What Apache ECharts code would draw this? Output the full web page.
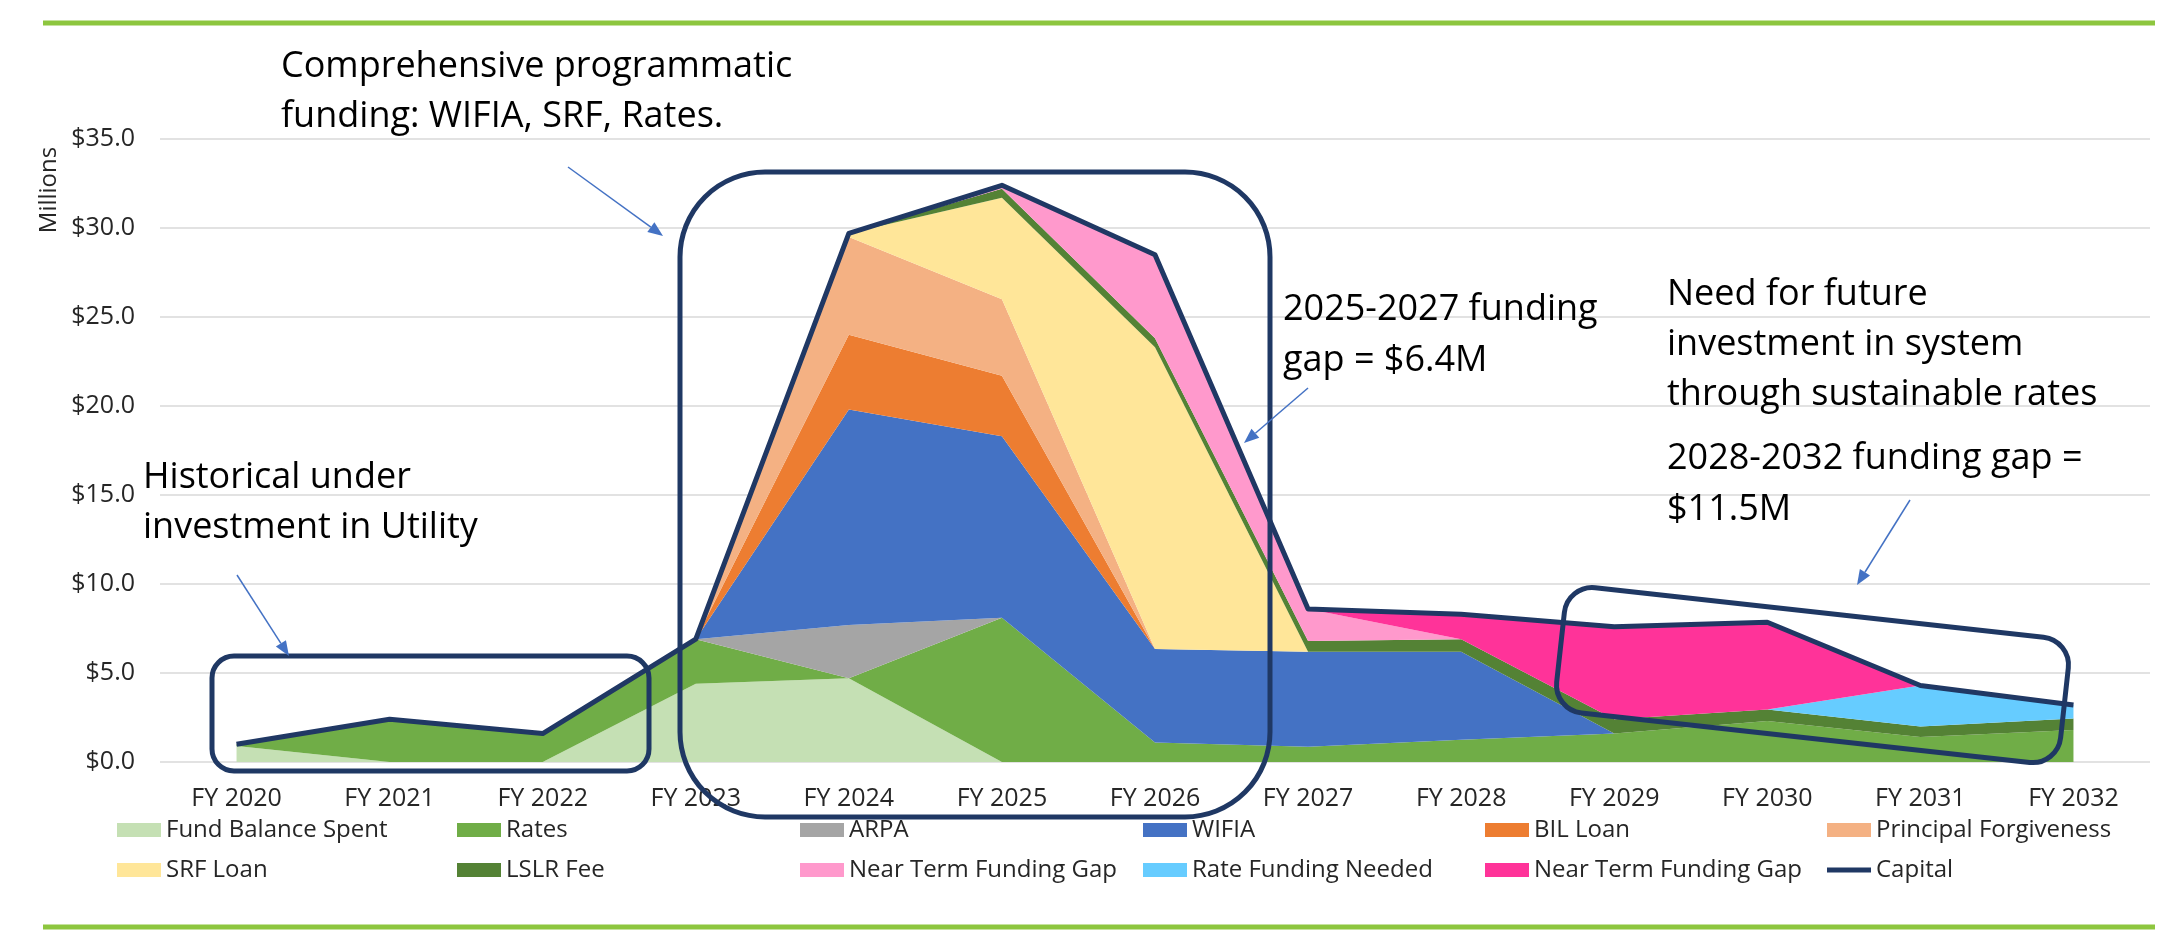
<!DOCTYPE html>
<html>
<head>
<meta charset="utf-8">
<script src="https://cdn.jsdelivr.net/npm/echarts@6.0.0/dist/echarts.min.js"></script>
<style>
  html, body { margin: 0; padding: 0; background: #fff; }
  #chart { width: 2183px; height: 942px; }
</style>
</head>
<body>
<div id="chart"></div>
<script>
// categories and stacked funding sources ($ millions)
const categories = ['FY 2020', 'FY 2021', 'FY 2022', 'FY 2023', 'FY 2024', 'FY 2025', 'FY 2026',
                    'FY 2027', 'FY 2028', 'FY 2029', 'FY 2030', 'FY 2031', 'FY 2032'];
const fundBalanceSpent     = [0.9, 0,   0,   4.4, 4.7,  0,    0,     0,    0,    0,   0,    0,   0];
const rates                = [0.1, 2.4, 1.6, 2.5, 0,    8.1,  1.1,   0.85, 1.25, 1.6, 2.3,  1.4, 1.8];
const arpa                 = [0,   0,   0,   0,   3.0,  0,    0,     0,    0,    0,   0,    0,   0];
const wifia                = [0,   0,   0,   0,   12.1, 10.2, 5.25,  5.35, 4.95, 0,   0,    0,   0];
const bilLoan              = [0,   0,   0,   0,   4.2,  3.4,  0,     0,    0,    0,   0,    0,   0];
const principalForgiveness = [0,   0,   0,   0,   5.5,  4.3,  0,     0,    0,    0,   0,    0,   0];
const srfLoan              = [0,   0,   0,   0,   0.2,  5.7,  16.95, 0,    0,    0,   0,    0,   0];
const lslrFee              = [0,   0,   0,   0,   0,    0.5,  0.5,   0.6,  0.7,  0.8, 0.65, 0.6, 0.65];
const nearTermGap          = [0,   0,   0,   0,   0,    0.2,  4.7,   1.8,  0,    0,   0,    0,   0];
const rateFundingNeeded    = [0,   0,   0,   0,   0,    0,    0,     0,    0,    0,   0,    2.3, 0.75];
const nearTermGapLater     = [0,   0,   0,   0,   0,    0,    0,     0,    1.4,  5.2, 4.9,  0,   0];
const capital              = [1.0, 2.4, 1.6, 6.9, 29.7, 32.4, 28.5,  8.6,  8.3,  7.6, 7.85, 4.3, 3.2];
const yTicks = [0, 5, 10, 15, 20, 25, 30, 35];

const FONT = '"Open Sans", sans-serif';

const areaDefs = [
    ['Fund Balance Spent', fundBalanceSpent, '#C5E0B4'],
    ['Rates', rates, '#70AD47'],
    ['ARPA', arpa, '#A5A5A5'],
    ['WIFIA', wifia, '#4472C4'],
    ['BIL Loan', bilLoan, '#ED7D31'],
    ['Principal Forgiveness', principalForgiveness, '#F4B183'],
    ['SRF Loan', srfLoan, '#FFE699'],
    ['LSLR Fee', lslrFee, '#548235'],
    ['Near Term Funding Gap', nearTermGap, '#FF99CC'],
    ['Rate Funding Needed', rateFundingNeeded, '#66CCFF'],
    ['Near Term Funding Gap ', nearTermGapLater, '#FF3399']
];

const series = areaDefs.map(([name, data, color]) => ({
    name: name,
    type: 'line',
    stack: 'funding',
    data: data,
    symbol: 'none',
    showSymbol: false,
    lineStyle: { width: 0 },
    itemStyle: { color: color },
    areaStyle: { color: color, opacity: 1 },
    z: 2
}));
series.push({
    name: 'Capital',
    type: 'line',
    data: capital,
    symbol: 'none',
    showSymbol: false,
    itemStyle: { color: '#203864' },
    lineStyle: { color: '#203864', width: 5, join: 'round' },
    z: 5
});

// legend: 2 rows x 6 columns
const legendNames = areaDefs.map(d => d[0]).concat(['Capital']);
const colX = [117, 457, 800, 1143, 1485, 1827];
const rowY = [831, 871];
const legends = legendNames.map((name, i) => ({
    data: [name],
    left: colX[i % 6],
    top: rowY[Math.floor(i / 6)] - 13,
    padding: 0,
    icon: 'rect',
    itemWidth: 44,
    itemHeight: name === 'Capital' ? 5 : 14,
    itemGap: 0,
    selectedMode: false,
    formatter: n => n.trim(),
    textStyle: { fontFamily: FONT, fontSize: 24, color: '#262626', padding: [0, 0, 0, 0] }
}));

// annotation helpers
function textLines(lines, x, firstBaseline, size, gap) {
    return lines.map((t, i) => ({
        type: 'text',
        x: x,
        y: firstBaseline + i * gap - size * 0.36,
        z: 110,
        style: {
            text: t,
            fontFamily: FONT,
            fontSize: size,
            fill: '#000',
            textAlign: 'left',
            textVerticalAlign: 'middle'
        }
    }));
}

function arrow(x1, y1, x2, y2) {
    const dx = x2 - x1, dy = y2 - y1;
    const len = Math.hypot(dx, dy);
    const ux = dx / len, uy = dy / len;
    const hl = 15, hw = 6;
    const bx = x2 - ux * hl, by = y2 - uy * hl;
    return [
        { type: 'line', z: 110, shape: { x1: x1, y1: y1, x2: bx, y2: by },
          style: { stroke: '#4472C4', lineWidth: 1.5 } },
        { type: 'polygon', z: 110,
          shape: { points: [[x2, y2], [bx - uy * hw, by + ux * hw], [bx + uy * hw, by - ux * hw]] },
          style: { fill: '#4472C4' } }
    ];
}

const boxStyle = { fill: 'none', stroke: '#1F3864', lineWidth: 5 };
const NOTE = 36;

const graphics = [
    // decorative rules
    { type: 'line', z: 100, shape: { x1: 43, y1: 23, x2: 2155, y2: 23 }, style: { stroke: '#8DC63F', lineWidth: 5 } },
    { type: 'line', z: 100, shape: { x1: 43, y1: 927, x2: 2155, y2: 927 }, style: { stroke: '#8DC63F', lineWidth: 5 } },
    // axis unit
    { type: 'text', x: 49, y: 190, rotation: Math.PI / 2, z: 100,
      style: { text: 'Millions', fontFamily: FONT, fontSize: 24, fill: '#262626',
               textAlign: 'center', textVerticalAlign: 'middle' } },
    // highlight boxes
    { type: 'rect', z: 105, shape: { x: 212, y: 656, width: 437, height: 115, r: 22 }, style: boxStyle },
    { type: 'rect', z: 105, shape: { x: 680, y: 172, width: 590, height: 645, r: 85 }, style: boxStyle },
    { type: 'rect', z: 105, x: 1812, y: 675, rotation: -6.3 * Math.PI / 180,
      shape: { x: -253, y: -63, width: 507, height: 126, r: 28 }, style: boxStyle }
]
.concat(textLines(['Comprehensive programmatic', 'funding: WIFIA, SRF, Rates.'], 281, 80, NOTE, 50))
.concat(textLines(['Historical under', 'investment in Utility'], 143, 491, NOTE, 50))
.concat(textLines(['2025-2027 funding', 'gap = $6.4M'], 1283, 323, NOTE, 51))
.concat(textLines(['Need for future', 'investment in system', 'through sustainable rates'], 1667, 308, NOTE, 50))
.concat(textLines(['2028-2032 funding gap =', '$11.5M'], 1667, 472, NOTE, 51))
.concat(arrow(568, 167, 663, 236))
.concat(arrow(237, 575, 289, 656))
.concat(arrow(1308, 388, 1244, 443))
.concat(arrow(1910, 500, 1857, 585));

const chart = echarts.init(document.getElementById('chart'));
chart.setOption({
    animation: false,
    backgroundColor: '#fff',
    grid: { left: 160, right: 33, top: 139, bottom: 180 },
    legend: legends,
    xAxis: {
        type: 'category',
        data: categories,
        boundaryGap: true,
        axisLine: { show: false },
        axisTick: { show: false },
        axisLabel: { fontFamily: FONT, fontSize: 25, color: '#262626', margin: 24 }
    },
    yAxis: {
        type: 'value',
        min: yTicks[0],
        max: yTicks[yTicks.length - 1],
        interval: 5,
        axisLine: { show: false },
        axisTick: { show: false },
        axisLabel: { fontFamily: FONT, fontSize: 25, color: '#262626', margin: 25,
                     formatter: v => '$' + v.toFixed(1) },
        splitLine: { lineStyle: { color: '#D9D9D9', width: 1.5 } }
    },
    series: series,
    graphic: graphics
});
</script>
</body>
</html>
